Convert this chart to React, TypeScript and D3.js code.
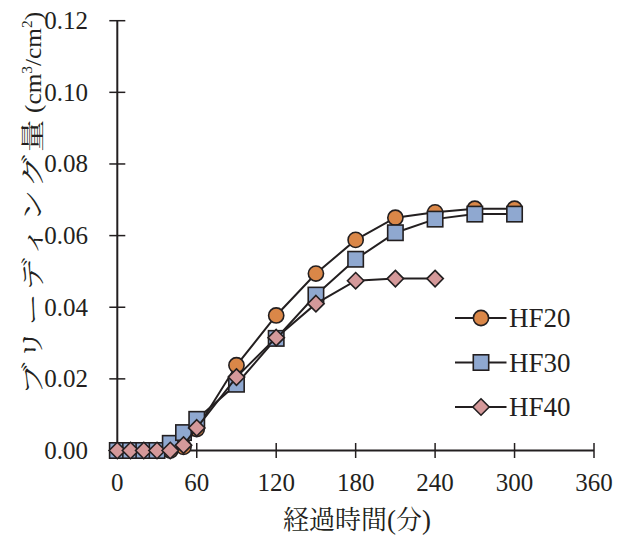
import React from "react";
import * as d3 from "d3";

const times = [0, 10, 20, 30, 40, 50, 60, 90, 120, 150, 180, 210, 240, 270, 300];
const hf20 = [0, 0, 0, 0, 0, 0.001, 0.006, 0.0238, 0.0377, 0.0494, 0.0588, 0.065, 0.0665, 0.0675, 0.0675];
const hf30 = [0, 0, 0, 0, 0.002, 0.005, 0.0087, 0.0185, 0.0313, 0.0434, 0.0534, 0.0608, 0.0646, 0.066, 0.066];
const hf40 = [0, 0, 0, 0, 0, 0.0015, 0.0063, 0.0205, 0.0315, 0.041, 0.0474, 0.048, 0.048];
const xTicks = [0, 60, 120, 180, 240, 300, 360];
const yTicks = [0, 0.02, 0.04, 0.06, 0.08, 0.1, 0.12];
const seriesNames = ["HF20", "HF30", "HF40"];

const W = 626;
const H = 539;
const ink = "#231f20";
const serif = "Liberation Serif";
const jp = "Noto Serif CJK JP";

type Shape = "circle" | "square" | "diamond";
const series: { name: string; values: number[]; fill: string; shape: Shape }[] = [
  { name: seriesNames[0], values: hf20, fill: "#DA8748", shape: "circle" },
  { name: seriesNames[1], values: hf30, fill: "#8FA8D0", shape: "square" },
  { name: seriesNames[2], values: hf40, fill: "#D5999A", shape: "diamond" },
];

function Marker({ shape, x, y, fill }: { shape: Shape; x: number; y: number; fill: string }) {
  const common = { fill, stroke: ink, strokeWidth: 1.6 };
  if (shape === "circle") return <circle cx={x} cy={y} r={7.6} {...common} />;
  if (shape === "square") return <rect x={x - 7.7} y={y - 7.7} width={15.4} height={15.4} {...common} />;
  const s = 8.2;
  return <path d={`M${x},${y - s}L${x + s},${y}L${x},${y + s}L${x - s},${y}Z`} {...common} />;
}

export default function App() {
  const x = d3.scaleLinear().domain([0, 360]).range([117.3, 594]);
  const y = d3.scaleLinear().domain([0, 0.12]).range([450.5, 20.7]);
  const line = d3
    .line<[number, number]>()
    .x((d) => x(d[0]))
    .y((d) => y(d[1]));
  const axisY = y(0);
  const legendY = [318, 362.5, 407];

  return (
    <svg width={W} height={H} style={{ position: "absolute", left: 0, top: 0, background: "#fff" }}>
      {/* y axis */}
      <line x1={x(0)} x2={x(0)} y1={y(0.12)} y2={axisY} stroke={ink} strokeWidth={2} />
      {yTicks.map((t) => (
        <g key={"y" + t}>
          {t > 0 && <line x1={x(0) - 8} x2={x(0) + 8} y1={y(t)} y2={y(t)} stroke={ink} strokeWidth={1.5} />}
          <text x={88} y={y(t)} dy="0.34em" textAnchor="end" fontFamily={serif} fontSize={25} fill={ink}>
            {t.toFixed(2)}
          </text>
        </g>
      ))}
      {/* x axis */}
      <line x1={x(0)} x2={x(360)} y1={axisY} y2={axisY} stroke={ink} strokeWidth={2} />
      {xTicks.map((t) => (
        <g key={"x" + t}>
          {t > 0 && <line x1={x(t)} x2={x(t)} y1={axisY - 7.5} y2={axisY + 7.5} stroke={ink} strokeWidth={1.5} />}
          <text x={x(t)} y={491} textAnchor="middle" fontFamily={serif} fontSize={25} fill={ink}>
            {t}
          </text>
        </g>
      ))}
      <text x={357} y={529} textAnchor="middle" fontFamily={jp} fontSize={26} fill={ink}>
        経過時間<tspan fontFamily={serif} fontSize={27}>(</tspan>分<tspan fontFamily={serif} fontSize={27}>)</tspan>
      </text>
      <text
        transform={`translate(41,395) rotate(-90) scale(1.35,1)`}
        fontFamily={jp}
        fontSize={24}
        fill={ink}
        style={{ letterSpacing: "2.2px" }}
      >
        ブリーディング量
      </text>
      <text transform={`translate(41,113) rotate(-90) scale(1.1,1)`} fontFamily={serif} fontSize={23} fill={ink}>
        (cm<tspan fontSize={14} dy={-9}>3</tspan>
        <tspan dy={9}>/cm</tspan>
        <tspan fontSize={14} dy={-9}>2</tspan>
        <tspan dy={9}>)</tspan>
      </text>

      {series.map((s) => {
        const pts = s.values.map((v, i) => [times[i], v] as [number, number]);
        return (
          <g key={s.name}>
            <path d={line(pts) || ""} fill="none" stroke={ink} strokeWidth={2} />
            {pts.map((p, i) => (
              <Marker key={i} shape={s.shape} x={x(p[0])} y={y(p[1])} fill={s.fill} />
            ))}
          </g>
        );
      })}

      {/* legend */}
      {series.map((s, i) => {
        const ly = legendY[i];
        return (
          <g key={"l" + s.name}>
            <line x1={455} x2={506.5} y1={ly} y2={ly} stroke={ink} strokeWidth={2} />
            <Marker shape={s.shape} x={481} y={ly} fill={s.fill} />
            <text x={509} y={ly} dy="0.34em" fontFamily={serif} fontSize={27} fill={ink}>
              {s.name}
            </text>
          </g>
        );
      })}
    </svg>
  );
}
